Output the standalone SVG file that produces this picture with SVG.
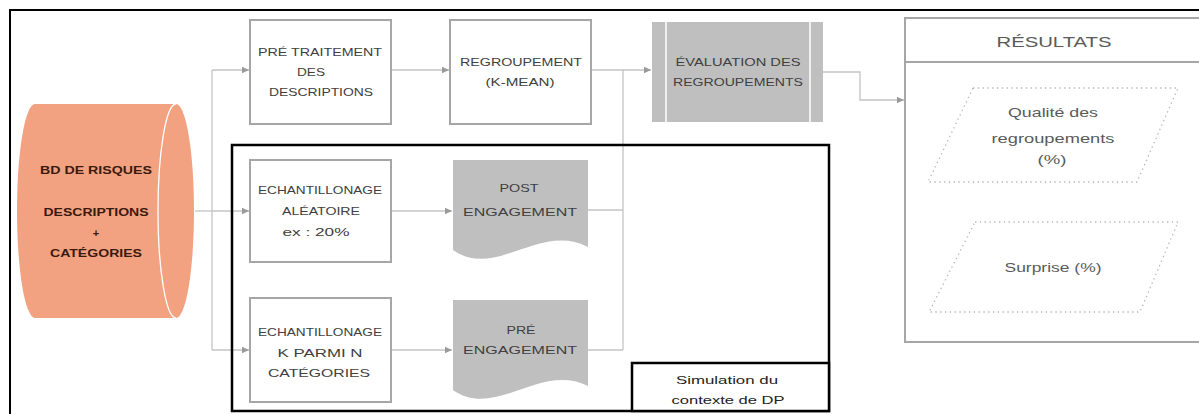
<svg xmlns="http://www.w3.org/2000/svg" width="1199" height="414" viewBox="0 0 1199 414">
<style>
.box{fill:#fff;stroke:#a6a6a6;stroke-width:2}
.gray{fill:#bfbfbf;stroke:none}
.t{font-family:"Liberation Sans",Arial,sans-serif;font-size:11px;fill:#404040;text-anchor:middle}
.tc{font-family:"Liberation Sans",Arial,sans-serif;font-size:11px;font-weight:bold;fill:#3b1a0e;text-anchor:middle}
.tr{font-family:"Liberation Sans",Arial,sans-serif;font-size:12px;fill:#5a5a5a;text-anchor:middle}
.ts{font-family:"Liberation Sans",Arial,sans-serif;font-size:11px;fill:#222;text-anchor:middle}
.con{fill:none;stroke:#c4c4c4;stroke-width:1.3}
.frame{fill:none;stroke:#000;stroke-width:2.5}
.dot{fill:none;stroke:#b5b5b5;stroke-width:1.3;stroke-dasharray:1.3 3.5}
</style>
<defs>
<marker id="ah" markerWidth="8" markerHeight="8" refX="7" refY="4" orient="auto" markerUnits="userSpaceOnUse">
<path d="M0,0.8 L7,4 L0,7.2 Z" fill="#9a9a9a"/>
</marker>
</defs>
<rect width="1199" height="414" fill="#fff"/>
<path d="M10,414 V10 H1199" fill="none" stroke="#000" stroke-width="2"/>

<g id="connectors">
<path class="con" d="M195,211 H212"/>
<path class="con" d="M212,70 V350"/>
<path class="con" d="M212,70 H249" marker-end="url(#ah)"/>
<path class="con" d="M212,211 H249" marker-end="url(#ah)"/>
<path class="con" d="M212,350 H249" marker-end="url(#ah)"/>
<path class="con" d="M391,70 H449" marker-end="url(#ah)"/>
<path class="con" d="M391,211 H452" marker-end="url(#ah)"/>
<path class="con" d="M391,350 H452" marker-end="url(#ah)"/>
<path class="con" d="M591,70 H651" marker-end="url(#ah)"/>
<path class="con" d="M623,70 V350"/>
<path class="con" d="M588,210 H623"/>
<path class="con" d="M588,350 H623"/>
<path class="con" d="M823,72 H860 V100 H904" marker-end="url(#ah)"/>
</g>

<g id="sim-frame">
<rect class="frame" x="232" y="145" width="597" height="266"/>
</g>

<g id="bd">
<path d="M35,104 H176 A18,107 0 0 1 176,318 H35 A18,107 0 0 1 35,104 Z" fill="#f3a281"/>
<path d="M176,104 A18,107 0 0 0 176,318" fill="none" stroke="#fff" stroke-width="1.3"/>
<text class="tc" x="96" y="174" textLength="112" lengthAdjust="spacingAndGlyphs">BD DE RISQUES</text>
<text class="tc" x="96" y="216" textLength="105" lengthAdjust="spacingAndGlyphs">DESCRIPTIONS</text>
<text class="tc" x="96" y="237">+</text>
<text class="tc" x="96" y="257" textLength="92" lengthAdjust="spacingAndGlyphs">CATÉGORIES</text>
</g>

<g id="pretraitement">
<rect class="box" x="250" y="20" width="141" height="104"/>
<text class="t" x="320" y="56" textLength="124" lengthAdjust="spacingAndGlyphs">PRÉ TRAITEMENT</text>
<text class="t" x="311" y="76" textLength="28" lengthAdjust="spacingAndGlyphs">DES</text>
<text class="t" x="321" y="96" textLength="104" lengthAdjust="spacingAndGlyphs">DESCRIPTIONS</text>
</g>

<g id="regroupement">
<rect class="box" x="450" y="20" width="141" height="104"/>
<text class="t" x="521" y="66" textLength="122" lengthAdjust="spacingAndGlyphs">REGROUPEMENT</text>
<text class="t" x="520" y="86" textLength="69" lengthAdjust="spacingAndGlyphs">(K-MEAN)</text>
</g>

<g id="evaluation">
<rect class="gray" x="652" y="22" width="171" height="100"/>
<path d="M666,22 V122 M810,22 V122" stroke="#fff" stroke-width="1.5"/>
<text class="t" x="738" y="66" textLength="125" lengthAdjust="spacingAndGlyphs">ÉVALUATION DES</text>
<text class="t" x="738" y="86" textLength="130" lengthAdjust="spacingAndGlyphs">REGROUPEMENTS</text>
</g>

<g id="echant1">
<rect class="box" x="250" y="160" width="141" height="102"/>
<text class="t" x="320" y="194" textLength="124" lengthAdjust="spacingAndGlyphs">ECHANTILLONAGE</text>
<text class="t" x="321" y="215" textLength="78" lengthAdjust="spacingAndGlyphs">ALÉATOIRE</text>
<text class="t" x="316" y="236" textLength="67" lengthAdjust="spacingAndGlyphs">ex : 20%</text>
</g>

<g id="echant2">
<rect class="box" x="250" y="298" width="141" height="104"/>
<text class="t" x="320" y="336" textLength="124" lengthAdjust="spacingAndGlyphs">ECHANTILLONAGE</text>
<text class="t" x="320" y="357" textLength="85" lengthAdjust="spacingAndGlyphs">K PARMI N</text>
<text class="t" x="319" y="377" textLength="102" lengthAdjust="spacingAndGlyphs">CATÉGORIES</text>
</g>

<g id="post">
<path class="gray" d="M453,160 H588 V247 C540,222 495,280 453,250 Z"/>
<text class="t" x="519" y="192" textLength="39" lengthAdjust="spacingAndGlyphs">POST</text>
<text class="t" x="520" y="216" textLength="114" lengthAdjust="spacingAndGlyphs">ENGAGEMENT</text>
</g>

<g id="pre">
<path class="gray" d="M453,300 H588 V386 C540,362 495,420 453,390 Z"/>
<text class="t" x="521" y="334" textLength="29" lengthAdjust="spacingAndGlyphs">PRÉ</text>
<text class="t" x="520" y="354" textLength="114" lengthAdjust="spacingAndGlyphs">ENGAGEMENT</text>
</g>

<g id="simulation">
<rect x="632" y="363" width="197" height="48" fill="#fff" stroke="#000" stroke-width="2.5"/>
<text class="ts" x="727" y="384" textLength="102" lengthAdjust="spacingAndGlyphs">Simulation du</text>
<text class="ts" x="728" y="404" textLength="113" lengthAdjust="spacingAndGlyphs">contexte de DP</text>
</g>

<g id="resultats">
<rect class="box" x="905" y="18" width="300" height="324"/>
<path d="M905,62 H1199" stroke="#a6a6a6" stroke-width="2"/>
<text class="tr" x="1054" y="47" textLength="115" lengthAdjust="spacingAndGlyphs" style="font-size:15px">RÉSULTATS</text>
</g>

<g id="qualite">
<path class="dot" d="M973,88 H1178 L1137,182 H928 Z"/>
<text class="tr" x="1053" y="117" textLength="90" lengthAdjust="spacingAndGlyphs">Qualité des</text>
<text class="tr" x="1053" y="143" textLength="123" lengthAdjust="spacingAndGlyphs">regroupements</text>
<text class="tr" x="1052" y="164" textLength="29" lengthAdjust="spacingAndGlyphs">(%)</text>
</g>

<g id="surprise">
<path class="dot" d="M975,222 H1178 L1140,312 H929 Z"/>
<text class="tr" x="1053" y="272" textLength="97" lengthAdjust="spacingAndGlyphs">Surprise (%)</text>
</g>
</svg>
